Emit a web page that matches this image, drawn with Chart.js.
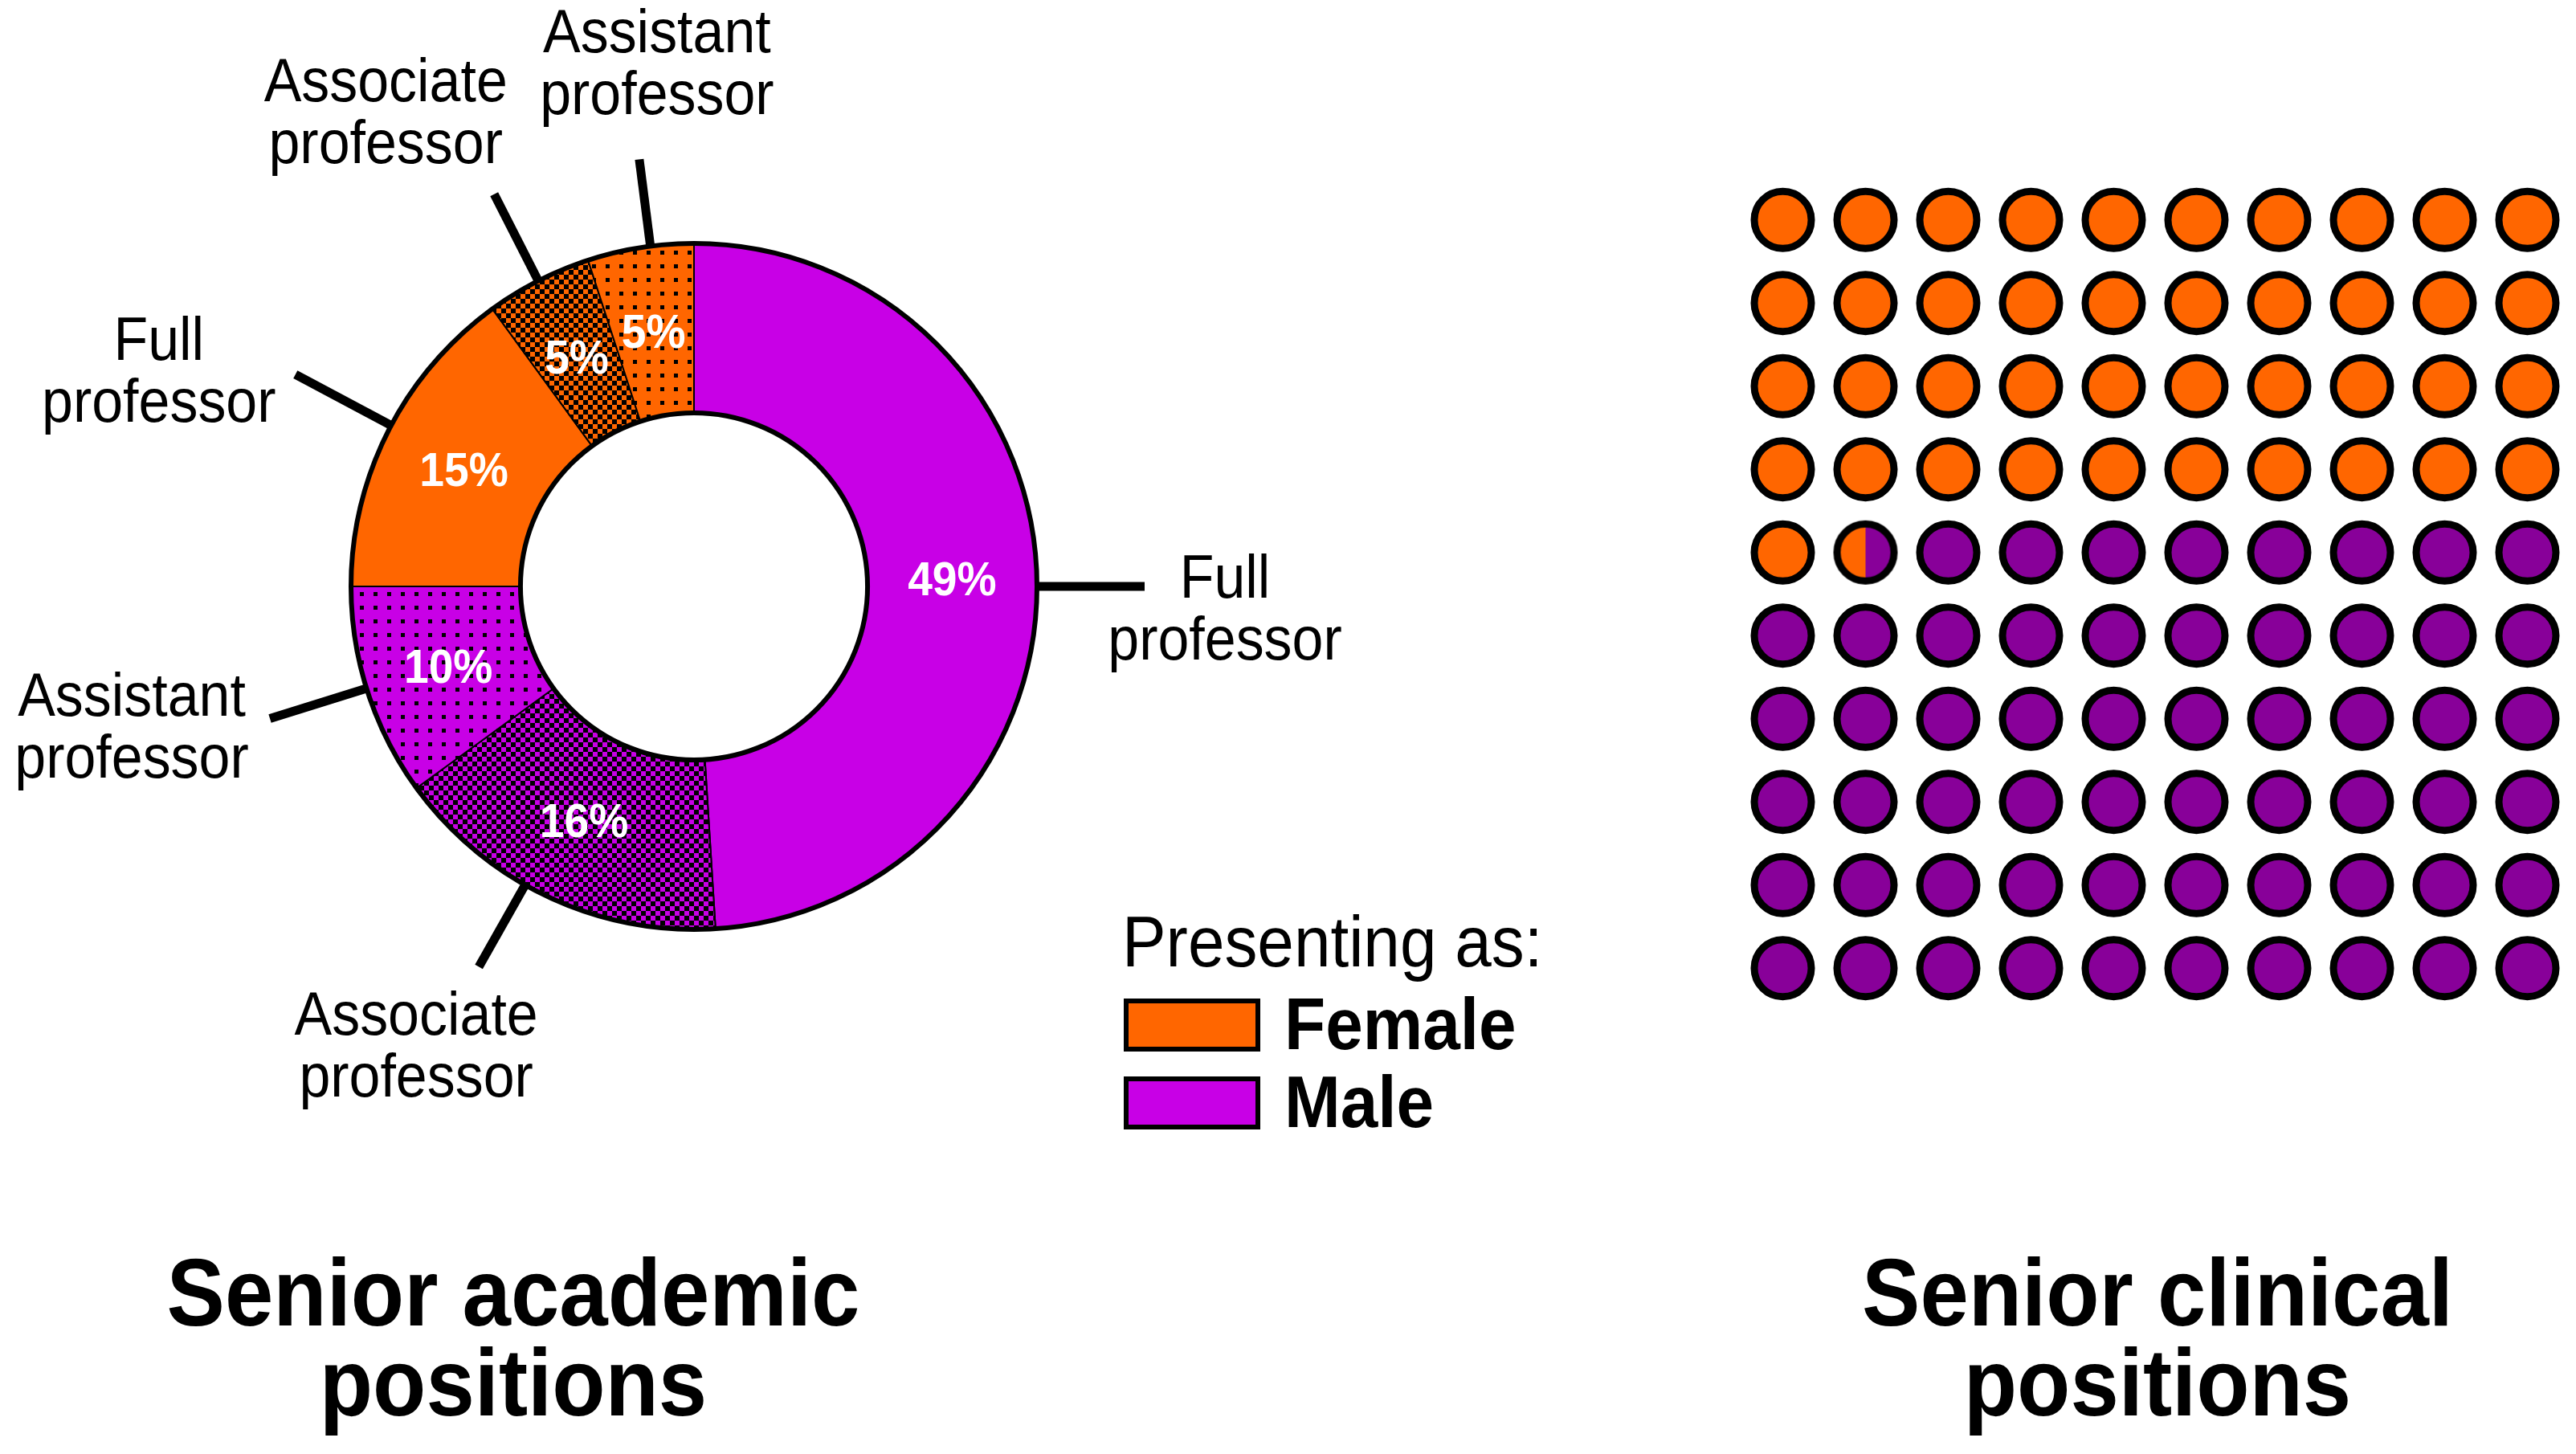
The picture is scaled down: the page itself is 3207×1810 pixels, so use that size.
<!DOCTYPE html>
<html>
<head>
<meta charset="utf-8">
<script src="https://cdn.jsdelivr.net/npm/chart.js@4.4.1/dist/chart.umd.min.js"></script>
<style>
  html, body { margin: 0; padding: 0; background: #ffffff; }
  #wrap { position: relative; width: 3207px; height: 1810px; overflow: hidden; background: #fff; }
  #donut { position: absolute; left: 0; top: 0; }
  #waffle { position: absolute; left: 2168px; top: 222px; }
</style>
</head>
<body>
<div id="wrap">
  <canvas id="donut" width="3207" height="1810"></canvas>
  <canvas id="waffle" width="1030" height="1035"></canvas>
</div>
<script>
// ---------------- DATA ----------------
const academicRanks   = ['Full professor', 'Associate professor', 'Assistant professor', 'Full professor', 'Associate professor', 'Assistant professor'];
const academicGenders = ['Male', 'Male', 'Male', 'Female', 'Female', 'Female'];
const academicShares  = [49, 16, 10, 15, 5, 5];
const genderLabels    = ['Female', 'Male'];
const clinicalShares  = [41.5, 58.5];   // Female, Male (of 100 senior clinical positions)
const legendTitle     = 'Presenting as:';
const chartTitles     = [['Senior academic', 'positions'], ['Senior clinical', 'positions']];

// ---------------- STYLE ----------------
const ORANGE = '#FF6600';
const MAGENTA = '#C800E6';
const WAFFLE_PURPLE = '#880099';
const genderColor = { Female: ORANGE, Male: MAGENTA };
const FONT = '"Liberation Sans", Arial, sans-serif';
const SX = 0.92; // horizontal text compression

function makePattern(base, kind) {
  const c = document.createElement('canvas');
  const g = c.getContext('2d');
  if (kind === 'checker') {
    c.width = 12; c.height = 12;
    g.fillStyle = base; g.fillRect(0, 0, 12, 12);
    g.fillStyle = '#000';
    g.fillRect(0, 0, 6, 6); g.fillRect(6, 6, 6, 6);
  } else {
    c.width = 17; c.height = 17;
    g.fillStyle = base; g.fillRect(0, 0, 17, 17);
    g.fillStyle = '#000';
    g.fillRect(6, 6, 5, 5);
  }
  return g.createPattern(c, 'repeat');
}
function rankFill(gender, rank) {
  const base = genderColor[gender];
  if (rank.startsWith('Full')) return base;
  if (rank.startsWith('Associate')) return makePattern(base, 'checker');
  return makePattern(base, 'dots');
}

function drawText(ctx, text, x, y, size, weight, align, color) {
  ctx.save();
  ctx.translate(x, y);
  ctx.scale(SX, 1);
  ctx.font = `${weight} ${size}px ${FONT}`;
  ctx.textAlign = align;
  ctx.textBaseline = 'alphabetic';
  ctx.fillStyle = color || '#000';
  ctx.fillText(text, 0, 0);
  ctx.restore();
}

// leader line geometry per slice: angle tweak (deg), length, label offset from line end
const leaderTweak  = [1.8, 4.3, 0.7, 1.0, 0.0, 1.7];
const leaderLength = [133, 116, 125, 134, 120, 108];
const labelOffset  = [[100, 14], [-78, 85], [-172, -3], [-170, -18], [-135, -116], [22, -133]];
const LINE_GAP = 77;

const donutDecor = {
  id: 'donutDecor',
  afterDatasetsDraw(chart) {
    const ctx = chart.ctx;
    const meta = chart.getDatasetMeta(0);
    const arcs = meta.data;
    const a0 = arcs[0];
    const cx = a0.x, cy = a0.y;
    const R = a0.outerRadius, r = a0.innerRadius;
    // thick outer and inner rims
    ctx.save();
    ctx.strokeStyle = '#000';
    ctx.lineWidth = 6;
    ctx.beginPath(); ctx.arc(cx, cy, R, 0, Math.PI * 2); ctx.stroke();
    ctx.beginPath(); ctx.arc(cx, cy, r, 0, Math.PI * 2); ctx.stroke();
    ctx.restore();

    arcs.forEach((arc, i) => {
      // percentage labels
      const p = arc.tooltipPosition();
      drawText(ctx, academicShares[i] + '%', p.x, p.y + 21, 60, 'bold', 'center', '#fff');
      // leader lines
      const mid = (arc.startAngle + arc.endAngle) / 2 + leaderTweak[i] * Math.PI / 180;
      const ux = Math.cos(mid), uy = Math.sin(mid);
      const sx = cx + ux * (R + 1), sy = cy + uy * (R + 1);
      const ex = sx + ux * leaderLength[i], ey = sy + uy * leaderLength[i];
      ctx.save();
      ctx.strokeStyle = '#000';
      ctx.lineWidth = 11;
      ctx.beginPath(); ctx.moveTo(sx, sy); ctx.lineTo(ex, ey); ctx.stroke();
      ctx.restore();
      // rank labels
      const words = academicRanks[i].split(' ');
      const lx = ex + labelOffset[i][0], ly = ey + labelOffset[i][1];
      words.forEach((w, k) => drawText(ctx, w, lx, ly + k * LINE_GAP, 76, 'normal', 'center'));
    });

    // legend
    const lgX = 1399, lgY = 1203;
    drawText(ctx, legendTitle, lgX - 2, lgY, 89, 'normal', 'left');
    genderLabels.forEach((g, k) => {
      const by = 1246 + k * 97;
      ctx.save();
      ctx.fillStyle = genderColor[g];
      ctx.fillRect(lgX + 3, by, 164, 60);
      ctx.strokeStyle = '#000'; ctx.lineWidth = 6;
      ctx.strokeRect(lgX + 3, by, 164, 60);
      ctx.restore();
      drawText(ctx, g, 1599, by + 60, 91, 'bold', 'left');
    });

    // titles
    const titleX = [639, 2686];
    chartTitles.forEach((lines, k) => {
      lines.forEach((t, j) => drawText(ctx, t, titleX[k], 1650 + j * 112, 118, 'bold', 'center'));
    });
  }
};

new Chart(document.getElementById('donut'), {
  type: 'doughnut',
  data: {
    labels: academicRanks.map((r, i) => academicGenders[i] + ' – ' + r),
    datasets: [{
      data: academicShares,
      backgroundColor: academicRanks.map((r, i) => rankFill(academicGenders[i], r)),
      borderColor: '#000',
      borderWidth: 2
    }]
  },
  options: {
    responsive: false,
    animation: false,
    events: [],
    radius: 427,
    cutout: '50.6%',
    layout: { padding: { left: 0, top: 0, right: 1479, bottom: 350 } },
    plugins: { legend: { display: false }, tooltip: { enabled: false }, title: { display: false } }
  },
  plugins: [donutDecor]
});

// ---------------- WAFFLE ----------------
const PR = 35.5, PBW = 9;
function splitDot(frac) {
  const size = Math.ceil(2 * (PR + PBW / 2) + 4);
  const c = document.createElement('canvas');
  c.width = size; c.height = size;
  const g = c.getContext('2d');
  const m = size / 2;
  g.save();
  g.beginPath(); g.arc(m, m, PR, 0, Math.PI * 2); g.clip();
  g.fillStyle = WAFFLE_PURPLE; g.fillRect(0, 0, size, size);
  g.fillStyle = ORANGE; g.fillRect(m - PR, 0, 2 * PR * frac, size);
  g.restore();
  g.strokeStyle = '#000'; g.lineWidth = PBW;
  g.beginPath(); g.arc(m, m, PR, 0, Math.PI * 2); g.stroke();
  return c;
}
const femalePts = [], malePts = [], splitPts = [], splitStyles = [];
for (let k = 0; k < 100; k++) {
  const pt = { x: k % 10, y: Math.floor(k / 10) };
  const f = Math.max(0, Math.min(1, clinicalShares[0] - k));
  if (f >= 1) femalePts.push(pt);
  else if (f <= 0) malePts.push(pt);
  else { splitPts.push(pt); splitStyles.push(splitDot(f)); }
}
const dotCommon = { pointRadius: PR, pointBorderWidth: PBW, pointBorderColor: '#000', pointStyle: 'circle', showLine: false, clip: false };
new Chart(document.getElementById('waffle'), {
  type: 'scatter',
  data: {
    datasets: [
      Object.assign({ label: 'Female', data: femalePts, pointBackgroundColor: ORANGE }, dotCommon),
      Object.assign({ label: 'Male', data: malePts, pointBackgroundColor: WAFFLE_PURPLE }, dotCommon),
      Object.assign({}, dotCommon, { label: 'Split', data: splitPts, pointStyle: splitStyles, pointBorderWidth: 0 })
    ]
  },
  options: {
    responsive: false,
    animation: false,
    events: [],
    layout: { padding: 0, autoPadding: false },
    scales: {
      x: { type: 'linear', min: -0.5, max: 9.5, display: false },
      y: { type: 'linear', min: -0.5, max: 9.5, reverse: true, display: false }
    },
    plugins: { legend: { display: false }, tooltip: { enabled: false } }
  }
});
</script>
</body>
</html>
